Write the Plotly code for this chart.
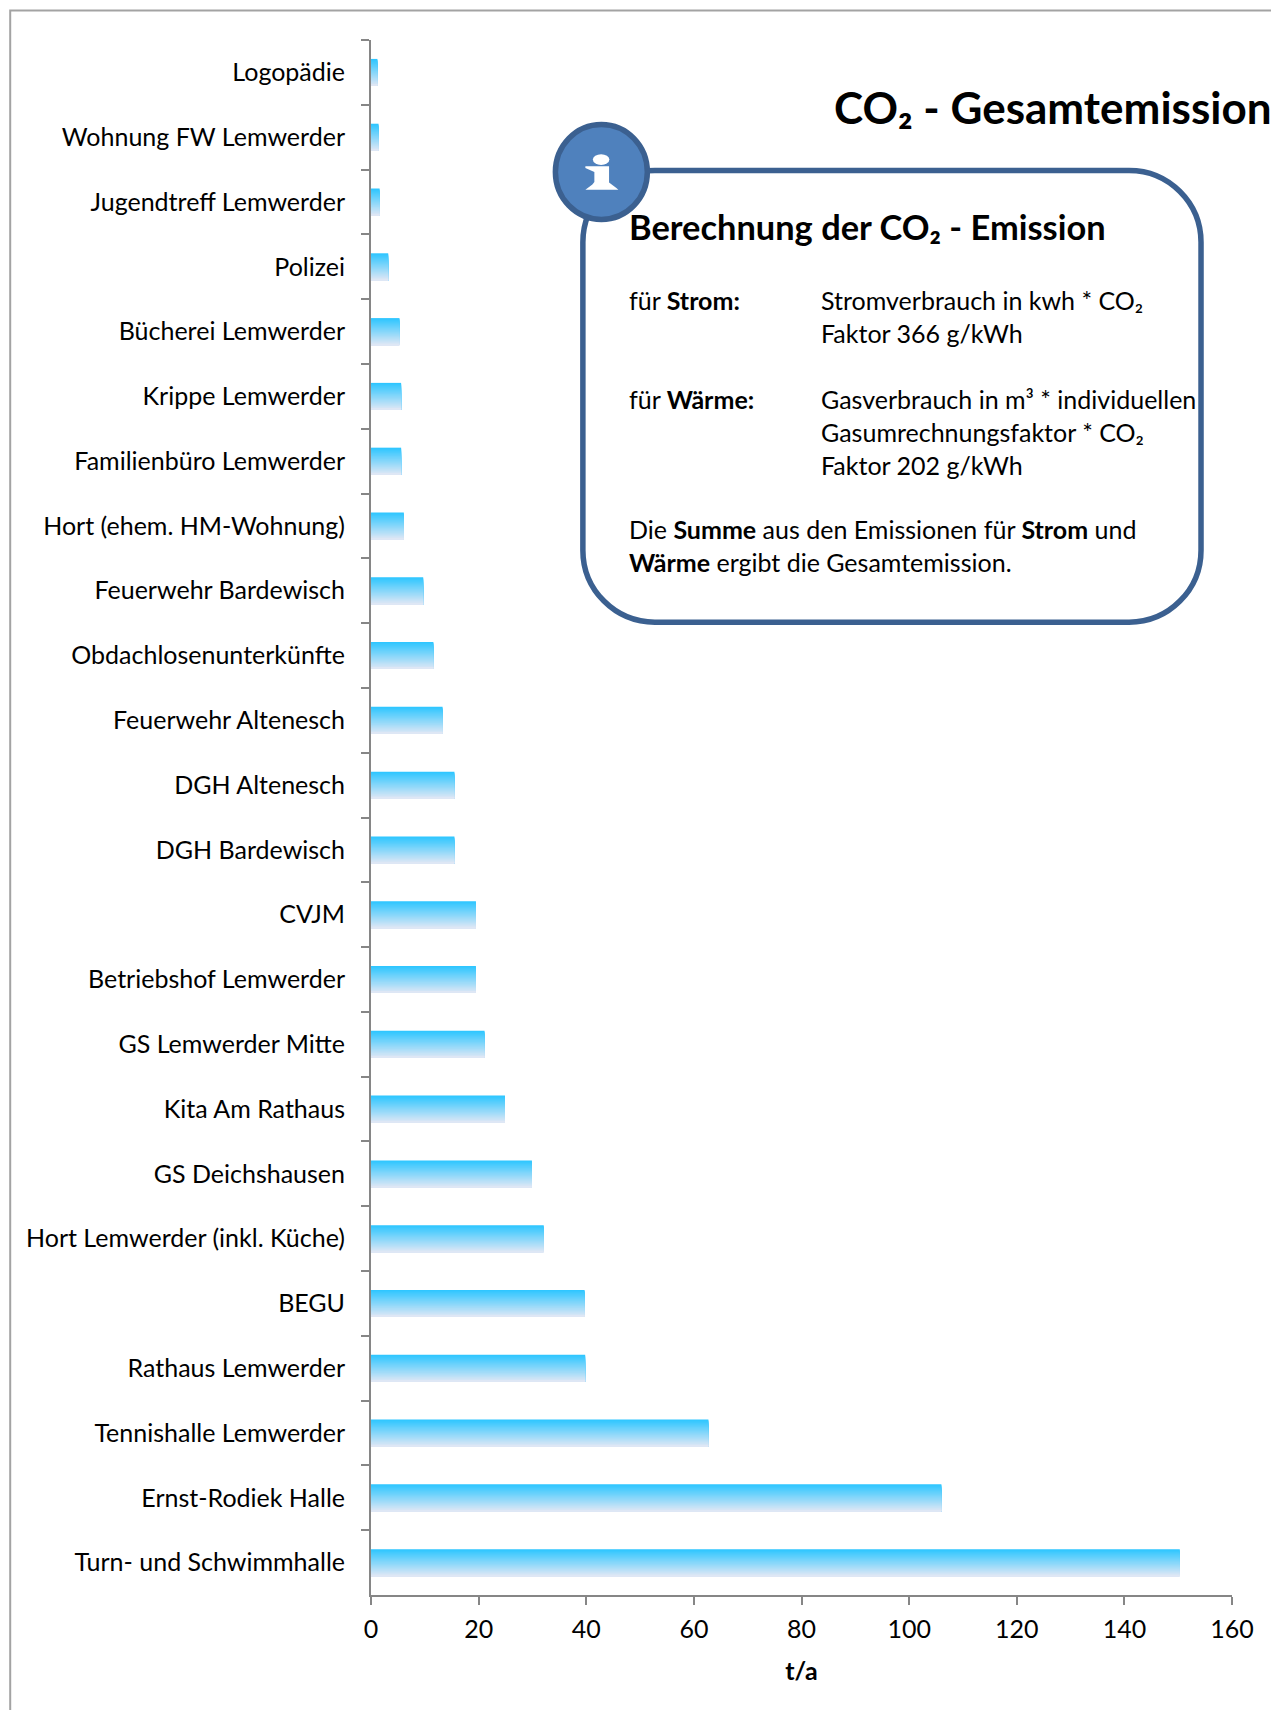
import plotly.graph_objects as go

categories = ["Logopädie", "Wohnung FW Lemwerder", "Jugendtreff Lemwerder", "Polizei", "Bücherei Lemwerder",
              "Krippe Lemwerder", "Familienbüro Lemwerder", "Hort (ehem. HM-Wohnung)", "Feuerwehr Bardewisch",
              "Obdachlosenunterkünfte", "Feuerwehr Altenesch", "DGH Altenesch", "DGH Bardewisch", "CVJM",
              "Betriebshof Lemwerder", "GS Lemwerder Mitte", "Kita Am Rathaus", "GS Deichshausen",
              "Hort Lemwerder (inkl. Küche)", "BEGU", "Rathaus Lemwerder", "Tennishalle Lemwerder",
              "Ernst-Rodiek Halle", "Turn- und Schwimmhalle"]
values = [1.2, 1.4, 1.6, 3.2, 5.3, 5.6, 5.6, 6.1, 9.7, 11.6, 13.3, 15.5, 15.5, 19.5, 19.5, 21.1, 24.9, 29.9,
          32.1, 39.7, 39.8, 62.7, 106.0, 150.3]
x_ticks = [0, 20, 40, 60, 80, 100, 120, 140, 160]

W, H = 1271, 1710
L, R, T, B = 370.5, 1232, 39.5, 1595.5
FONT = "Lato, Carlito, Calibri, sans-serif"
TOP_COL, BOT_COL = (47, 198, 255), (222, 231, 245)
BAR_H = 0.416
N = 26

def px(x): return (x - L) / (R - L)
def py(y): return (B - y) / (B - T)

fig = go.Figure()
for k in range(N):
    t = k / (N - 1)
    c = tuple(round(a + (b - a) * t) for a, b in zip(TOP_COL, BOT_COL))
    fig.add_trace(go.Bar(
        x=values, y=categories, orientation="h",
        offset=-BAR_H / 2 + k * BAR_H / N, width=BAR_H - k * BAR_H / N,
        marker=dict(color=f"rgb{c}", line=dict(width=0)),
        showlegend=False, hoverinfo="x+y"))

shapes = []
def path(d, **kw):
    shapes.append(dict(type="path", xref="paper", yref="paper", path=d, **kw))

def pth(*pts):
    return "M " + " L ".join(f"{px(x):.5f},{py(y):.5f}" for x, y in pts)

# outer frame
path(pth((9.5, 1712), (9.5, 10), (1273, 10)), line=dict(color="#A3A3A3", width=2))

# callout rounded box
x0, x1, y0, y1, r = 582.5, 1201, 170, 622, 72
k = 0.5523 * r
def P(x, y): return f"{px(x):.5f},{py(y):.5f}"
d = (f"M {P(x0 + r, y0)} L {P(x1 - r, y0)} C {P(x1 - r + k, y0)} {P(x1, y0 + r - k)} {P(x1, y0 + r)} "
     f"L {P(x1, y1 - r)} C {P(x1, y1 - r + k)} {P(x1 - r + k, y1)} {P(x1 - r, y1)} "
     f"L {P(x0 + r, y1)} C {P(x0 + r - k, y1)} {P(x0, y1 - r + k)} {P(x0, y1 - r)} "
     f"L {P(x0, y0 + r)} C {P(x0, y0 + r - k)} {P(x0 + r - k, y0)} {P(x0 + r, y0)} Z")
path(d, line=dict(color="#3B6090", width=5.5), fillcolor="white")

# info circle
shapes.append(dict(type="circle", xref="paper", yref="paper", x0=px(555), x1=px(647), y0=py(219), y1=py(124),
                   line=dict(color="#3B6090", width=5.5), fillcolor="#4F81BD"))
# info glyph
shapes.append(dict(type="circle", xref="paper", yref="paper", x0=px(592.5), x1=px(609), y0=py(164.5), y1=py(153.7),
                   line=dict(width=0), fillcolor="white"))
path(pth((585, 165.7), (608.7, 165.7), (608.7, 182), (616, 187.5), (618, 189.3), (585, 189.3), (592, 184), (594, 181.7),
         (594, 171.7), (585, 167.5)) + " Z",
     line=dict(width=0), fillcolor="white")

anns = []
def text(x, y, s, size=25, anchor="left"):
    anns.append(dict(xref="paper", yref="paper", x=px(x), y=py(y), text=s, showarrow=False,
                     xanchor=anchor, yanchor="middle", font=dict(family=FONT, size=size, color="black")))

text(832, 107, "<b>CO₂ - Gesamtemission</b>", 44)
text(627, 226, "<b>Berechnung der CO₂ - Emission</b>", 34.4)
text(627, 300, "für <b>Strom:</b>")
text(819, 300, "Stromverbrauch in kwh * CO₂")
text(819, 333, "Faktor 366 g/kWh")
text(627, 399, "für <b>Wärme:</b>")
text(819, 399, "Gasverbrauch in m³ * individuellen")
text(819, 432, "Gasumrechnungsfaktor * CO₂")
text(819, 465, "Faktor 202 g/kWh")
text(627, 529, "Die <b>Summe</b> aus den Emissionen für <b>Strom</b> und")
text(627, 562, "<b>Wärme</b> ergibt die Gesamtemission.")

axis_col = "#868686"
fig.update_layout(
    width=W, height=H, autosize=False, barmode="overlay",
    margin=dict(l=L, r=W - R, t=T, b=H - B, pad=0),
    paper_bgcolor="white", plot_bgcolor="white",
    font=dict(family=FONT, size=25, color="black"),
    shapes=shapes, annotations=anns,
    xaxis=dict(range=[0, 160], tickvals=x_ticks, ticks="outside", ticklen=8, tickwidth=2, tickcolor=axis_col,
               showline=True, linecolor=axis_col, linewidth=2, showgrid=False, zeroline=False,
               ticklabelstandoff=3,
               title=dict(text="<b>t/a</b>", standoff=20, font=dict(family=FONT, size=25, color="black"))),
    yaxis=dict(type="category", categoryorder="array", categoryarray=categories, autorange="reversed",
               tickson="boundaries", ticks="outside", ticklen=8, tickwidth=2, tickcolor=axis_col,
               showline=True, linecolor=axis_col, linewidth=2, showgrid=False, zeroline=False,
               ticklabelstandoff=19),
)
fig.write_html("out.html", config=dict(displayModeBar=False),
               post_script="document.body.style.margin='0';document.body.style.overflow='hidden';")
